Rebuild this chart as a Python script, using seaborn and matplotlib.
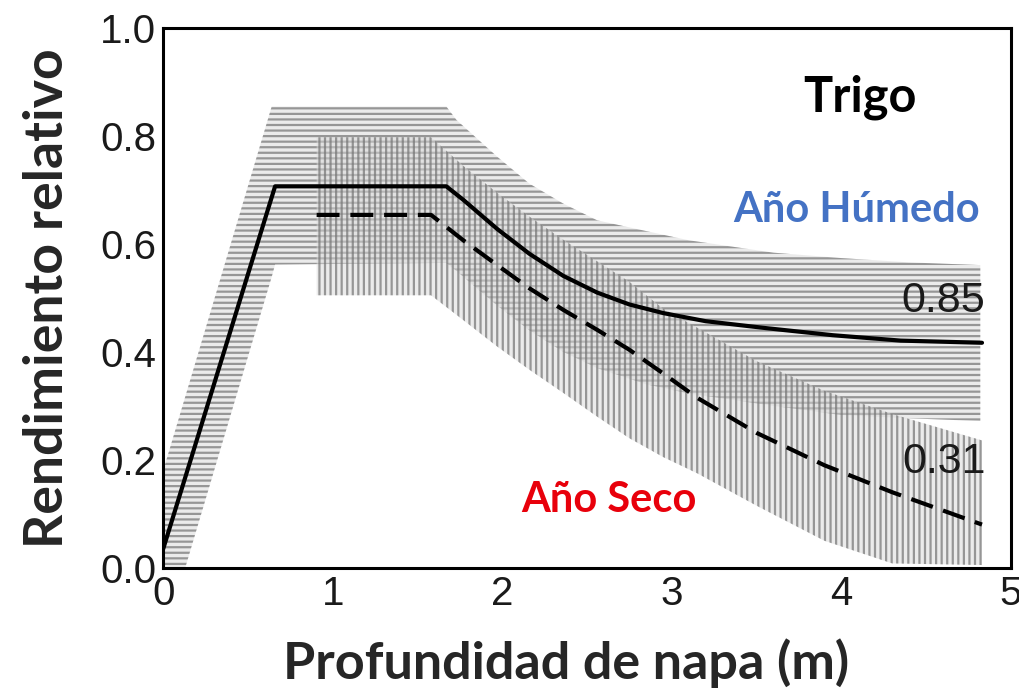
import numpy as np
import pandas as pd
import seaborn as sns
import matplotlib.pyplot as plt

# Año húmedo (linea continua) y banda
wet_x = [0.0, 0.66, 1.67, 1.77, 1.97, 2.16, 2.36, 2.56, 2.75, 2.95, 3.2, 3.56, 3.95, 4.35, 4.83]
wet_y = [0.035, 0.707, 0.707, 0.682, 0.628, 0.582, 0.541, 0.510, 0.488, 0.472, 0.457, 0.444, 0.431, 0.421, 0.417]

wet_band_x = [0.0, 0.13, 0.64, 0.66, 1.67, 1.73, 1.97, 2.16, 2.36, 2.56, 2.85, 3.1, 3.6, 4.0, 4.4, 4.82]
wet_band_hi = [0.18, 0.317, 0.855, 0.855, 0.855, 0.83, 0.762, 0.712, 0.675, 0.644, 0.624, 0.607, 0.584, 0.574, 0.566, 0.561]
wet_band_lo = [0.0, 0.0, 0.539, 0.562, 0.565, 0.55, 0.486, 0.44, 0.40, 0.37, 0.34, 0.323, 0.30, 0.283, 0.277, 0.272]

# Año seco (linea discontinua) y banda
dry_x = [0.905, 1.58, 1.77, 1.97, 2.16, 2.36, 2.56, 2.75, 2.95, 3.15, 3.5, 3.9, 4.3, 4.83]
dry_y = [0.654, 0.654, 0.607, 0.561, 0.518, 0.478, 0.441, 0.404, 0.36, 0.315, 0.25, 0.19, 0.14, 0.08]
dry_band_hi = [0.798, 0.798, 0.745, 0.695, 0.651, 0.608, 0.568, 0.53, 0.48, 0.445, 0.383, 0.328, 0.285, 0.236]
dry_band_lo = [0.505, 0.505, 0.459, 0.410, 0.367, 0.324, 0.280, 0.240, 0.205, 0.175, 0.115, 0.05, 0.008, 0.005]

x_ticks = [0, 1, 2, 3, 4, 5]
y_ticks = [0.0, 0.2, 0.4, 0.6, 0.8, 1.0]
y_tick_labels = ["0.0", "0.2", "0.4", "0.6", "0.8", "1.0"]

wet = pd.DataFrame({"x": wet_x, "y": wet_y})
dry = pd.DataFrame({"x": dry_x, "y": dry_y})

sns.set_theme(style="white")
plt.rcParams["font.family"] = ["Liberation Sans", "DejaVu Sans"]
plt.rcParams["hatch.linewidth"] = 1.6

fig = plt.figure(figsize=(10.2, 6.89), dpi=100)
ax = fig.add_axes([0.160, 0.176, 0.831, 0.783])

# bandas rayadas
ax.fill_between(wet_band_x, wet_band_lo, wet_band_hi, facecolor=(0.85, 0.85, 0.85, 0.5),
                edgecolor=(0.45, 0.45, 0.45, 0.7), hatch="---", linewidth=0, zorder=1)
ax.fill_between(dry_x, dry_band_lo, dry_band_hi, facecolor=(0.85, 0.85, 0.85, 0.5),
                edgecolor=(0.45, 0.45, 0.45, 0.7), hatch="|||", linewidth=0, zorder=1)

sns.lineplot(data=wet, x="x", y="y", ax=ax, color="black", linewidth=3.0, zorder=3)
sns.lineplot(data=dry, x="x", y="y", ax=ax, color="black", linewidth=3.0,
             linestyle=(0, (5.5, 2.6)), zorder=3)

ax.set_xlim(0, 5)
ax.set_ylim(0, 1.0)
ax.set_xticks(x_ticks)
ax.set_yticks(y_ticks)
ax.set_yticklabels(y_tick_labels)
ax.tick_params(direction="in", length=7, width=2, labelsize=29, labelcolor="#1a1a1a", pad=5)
for s in ax.spines.values():
    s.set_linewidth(2.2)
    s.set_color("black")

ax.set_xlabel("Profundidad de napa (m)", fontsize=37.5, fontweight="bold", family="Lato")
ax.xaxis.set_label_coords(0.475, -0.13)
ax.set_ylabel("Rendimiento relativo", fontsize=38.5, fontweight="bold", family="Lato", labelpad=20)

ax.text(4.11, 0.872, "Trigo", fontsize=35, fontweight="bold", family="Lato", color="black",
        ha="center", va="center")
ax.text(4.09, 0.663, "Año Húmedo", fontsize=30, fontweight="bold", family="Lato", color="#4472C4",
        ha="center", va="center")
ax.text(2.63, 0.126, "Año Seco", fontsize=30, fontweight="bold", family="Lato", color="#E8000B",
        ha="center", va="center")
ax.text(4.85, 0.494, "0.85", fontsize=31, color="#1a1a1a", ha="right", va="center")
ax.text(4.85, 0.196, "0.31", fontsize=31, color="#1a1a1a", ha="right", va="center")

fig.savefig("out.png", dpi=100)
